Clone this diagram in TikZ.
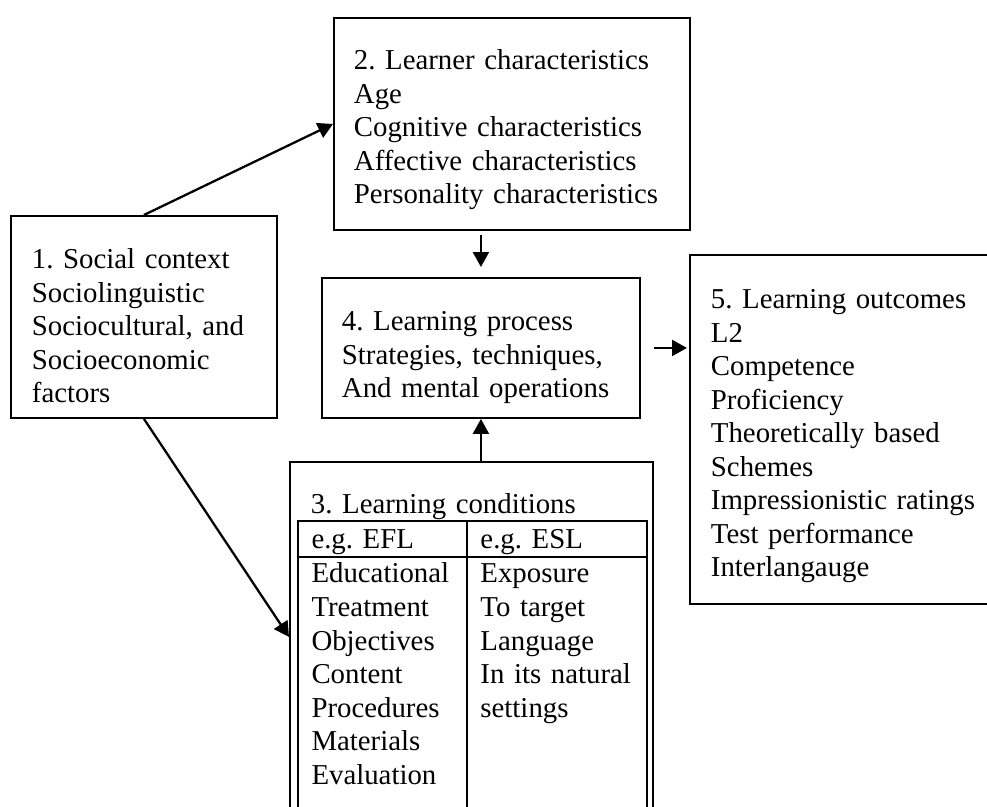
\documentclass[tikz,border=0pt]{standalone}
\usepackage{fontspec}
\setmainfont{Liberation Serif}
\usetikzlibrary{arrows.meta,positioning}
\frenchspacing

\begin{document}
\begin{tikzpicture}[
    x=0.02cm, y=-0.02cm,
    blk/.style={draw, line width=1.1pt, anchor=north west, align=left, inner xsep=0.42cm, inner ysep=0pt,
        font=\fontsize{16.4pt}{19.07pt}\selectfont, execute at begin node={\hyphenpenalty=10000 }},
    cell/.style={blk, inner xsep=0.27cm, outer sep=0pt},
    arr/.style={-{Triangle[length=0.3cm, width=0.32cm]}, line width=1.3pt}
]
\useasboundingbox (0,0) rectangle (987,807);
\clip (0,0) rectangle (987,807);

\node[blk, text width=4.48cm, text height=1.06cm, text depth=2.98cm] (ctx) at (10,215)
    {1. Social context\\Sociolinguistic\\Sociocultural, and\\Socioeconomic\\factors};
\node[blk, inner xsep=0.4cm, text width=6.32cm, text height=1.04cm, text depth=3.2cm] (lrn) at (333,17)
    {2. Learner characteristics\\Age\\Cognitive characteristics\\Affective characteristics\\Personality characteristics};
\node[blk, inner xsep=0.4cm, text width=5.56cm, text height=1.06cm, text depth=1.74cm] (proc) at (321,277)
    {4. Learning process\\Strategies, techniques,\\And mental operations};
\node[blk, text width=5.56cm, text height=1.08cm, text depth=5.9cm] (outc) at (689,254)
    {5. Learning outcomes\\L2\\Competence\\Proficiency\\Theoretically based\\Schemes\\Impressionistic ratings\\Test performance\\Interlangauge};
\node[blk, text width=6.42cm, text height=1.04cm, text depth=5.96cm] (cond) at (289,461)
    {3. Learning conditions};

% table inside the learning conditions box
\node[cell, text width=2.84cm, text height=0.56cm, text depth=0.16cm] (eflhd) at (298,521) {e.g. EFL};
\node[cell, text width=3.06cm, text height=0.56cm, text depth=0.16cm] (eslhd) at (eflhd.north east) {e.g. ESL};
\node[cell, text width=2.84cm, text height=0.52cm, text depth=4.56cm] (eflcol) at (eflhd.south west)
    {Educational\\Treatment\\Objectives\\Content\\Procedures\\Materials\\Evaluation};
\node[cell, text width=3.06cm, text height=0.52cm, text depth=4.56cm] (eslcol) at (eslhd.south west)
    {Exposure\\To target\\Language\\In its natural\\settings};

\draw[arr] (ctx.north) -- (lrn.west);
\draw[arr] (ctx.south) -- (cond.west);
\draw[arr, shorten <=0.08cm, shorten >=0.2cm] (lrn.south -| proc.north) -- (proc.north);
\draw[arr] (cond.north -| proc.south) -- (proc.south);
\draw[arr, shorten <=0.26cm, shorten >=0.04cm] (proc.east) -- (proc.east -| outc.west);
\end{tikzpicture}
\end{document}
